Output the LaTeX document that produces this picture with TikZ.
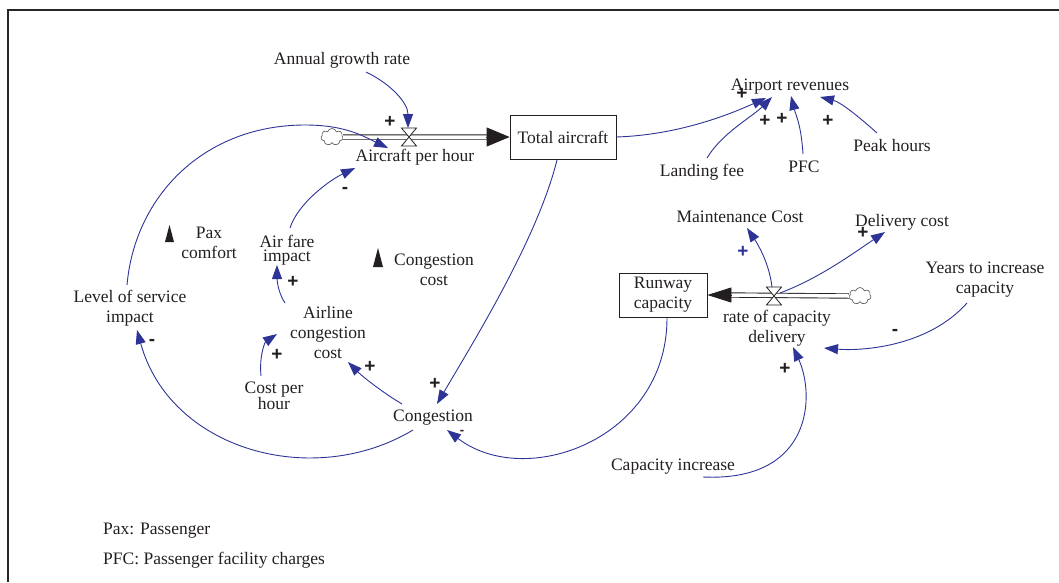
\documentclass[tikz,border=0pt]{standalone}
\usepackage{fontspec}
\setmainfont{Liberation Serif}
\newfontfamily\signfont{Liberation Sans}
\usetikzlibrary{arrows.meta,shapes.symbols}
\definecolor{linkblue}{RGB}{46,52,150}
\definecolor{ink}{RGB}{35,31,32}
\begin{document}
\begin{tikzpicture}[x=1pt,y=-1pt,
  txt/.style={font=\fontsize{17.5}{20}\selectfont, text=ink, inner sep=1pt, align=center},
  stock/.style={txt, draw=ink, line width=0.8pt, minimum height=44pt},
  link/.style={draw=linkblue, line width=0.9pt, -{Triangle[length=14pt,width=10pt]}},
  sgn/.style={font=\signfont\bfseries\fontsize{19}{19}\selectfont, text=ink, inner sep=0pt},
  pipe/.style={draw=ink, double=white, double distance=3.5pt, line width=0.9pt},
  cloudy/.style={cloud, cloud puffs=7, aspect=1.3, draw=black!60, fill=white, minimum width=22pt, minimum height=17pt, inner sep=0pt, line width=0.7pt},
  valveshape/.style={draw=ink, fill=white, line width=0.8pt},
  flowtip/.style={draw=ink, line width=0.8pt},
  marker/.style={fill=ink}
]
\useasboundingbox (0,0) rectangle (1059,582);
% frame
\draw[line width=2.6pt, black!85] (8,582) -- (8,10) -- (1059,10);

% ---- flow 1: aircraft
\node[cloudy] (c1) at (332,137) {};
\node[stock, minimum width=106pt] (ta) at (563,137) {Total aircraft};
\draw[pipe] (c1.east) -- ([xshift=-20pt]ta.west);
\draw[flowtip, -{Triangle[length=23pt,width=19pt]}] ([xshift=-24pt]ta.west) -- (ta.west);
\coordinate (v1) at (409,137);
\draw[valveshape] ([shift={(-7.5,-9)}]v1) -- ([shift={(7.5,-9)}]v1) -- ([shift={(-7.5,9)}]v1) -- ([shift={(7.5,9)}]v1) -- cycle;

% ---- flow 2: runway capacity
\node[stock, minimum width=88pt] (rc) at (663,295) {Runway\\capacity};
\node[cloudy] (c2) at (860,296) {};
\draw[pipe] (c2.west) -- ([xshift=21pt]rc.east);
\draw[flowtip, -{Triangle[length=24pt,width=15pt]}] ([xshift=24pt]rc.east) -- (rc.east);
\coordinate (v2) at (774,296);
\draw[valveshape] ([shift={(-7.5,-9)}]v2) -- ([shift={(7.5,-9)}]v2) -- ([shift={(-7.5,9)}]v2) -- ([shift={(7.5,9)}]v2) -- cycle;

% ---- text variables
\node[txt] (agr) at (342,60) {Annual growth rate};
\node[txt] (aph) at (415,157) {Aircraft per hour};
\node[txt] (ar) at (790,87) {Airport revenues};
\node[txt] (lf) at (702,172) {Landing fee};
\node[txt] (pfc) at (804,167) {PFC};
\node[txt] (ph) at (892,146) {Peak hours};
\node[txt, font=\fontsize{17.5}{14}\selectfont] (afi) at (287,250) {Air fare\\impact};
\node[txt] (pax) at (209,243) {Pax\\comfort};
\node[txt] (ccost) at (434,270) {Congestion\\cost};
\node[txt] (lsi) at (130,308) {Level of service\\impact};
\node[txt] (acc) at (328,333) {Airline\\congestion\\cost};
\node[txt, font=\fontsize{17.5}{16}\selectfont] (cph) at (274,396) {Cost per\\hour};
\node[txt] (cong) at (433,418) {Congestion};
\node[txt] (rcd) at (777,328) {rate of capacity\\delivery};
\node[txt] (mc) at (740,217) {Maintenance Cost};
\node[txt] (dc) at (902,222) {Delivery cost};
\node[txt] (yic) at (985,280) {Years to increase\\capacity};
\node[txt] (ci) at (673,467) {Capacity increase};
\node[txt, anchor=west] (leg1) at (102,531) {Pax: Passenger};
\node[txt, anchor=west] (leg2) at (102,560) {PFC: Passenger facility charges};

% loop markers
\fill[marker] (165,242) -- (174,242) -- (169.5,225) -- cycle;
\fill[marker] (373,267) -- (383,267) -- (378,248) -- cycle;

% ---- links
\draw[link] ([shift={(24,12)}]agr.center) .. controls +(25,12) and +(0,-25) .. ([shift={(-1,-9)}]v1);
\draw[link] (ta.east) .. controls +(60,-2) and +(-40,18) .. ([shift={(-24,11)}]ar.center);
\draw[link] ([shift={(5,-14)}]lf.center) .. controls +(15,-25) and +(-20,20) .. ([shift={(-18,10)}]ar.center);
\draw[link] ([shift={(-1,-13)}]pfc.center) .. controls +(-2,-30) and +(5,20) .. ([shift={(1,9)}]ar.center);
\draw[link] ([shift={(-15,-13)}]ph.center) .. controls +(-20,-18) and +(20,5) .. ([shift={(30,10)}]ar.center);
\draw[link] ([shift={(-3,-23)}]lsi.center) .. controls +(8,-90) and +(-100,0) .. (305,125) .. controls +(40,0) and +(-25,-12) .. ([shift={(-27,-9)}]aph.center);
\draw[link] ([shift={(3,-22)}]afi.center) .. controls +(8,-25) and +(-25,12) .. ([shift={(-60,11)}]aph.center);
\draw[link] ([shift={(-43,-30)}]acc.center) .. controls +(-8,-12) and +(0,12) .. ([shift={(-10,15)}]afi.center);
\draw[link] ([shift={(-13,-20)}]cph.center) .. controls +(-2,-20) and +(-12,8) .. ([shift={(-51,1)}]acc.center);
\draw[link] ([shift={(-31,-14)}]cong.center) .. controls +(-20,-12) and +(15,15) .. ([shift={(20,29)}]acc.center);
\draw[link] ([shift={(-6,23)}]ta.center) .. controls +(-20,80) and +(35,-60) .. ([shift={(4,-14)}]cong.center);
\draw[link] ([shift={(-20,12)}]cong.center) .. controls +(-100,60) and +(33,120) .. ([shift={(7,22)}]lsi.center);
\draw[link] ([shift={(4,23)}]rc.center) .. controls +(0,122) and +(78,60) .. ([shift={(14,12)}]cong.center);
\draw[link] ([shift={(-2,-9)}]v2) .. controls +(-3,-25) and +(10,15) .. ([shift={(7,11)}]mc.center);
\draw[link] ([shift={(6,-3)}]v2) .. controls +(40,-15) and +(-30,20) .. ([shift={(-17,10)}]dc.center);
\draw[link] ([shift={(-18,23)}]yic.center) .. controls +(-40,45) and +(35,3) .. ([shift={(47,20)}]rcd.center);
\draw[link] ([shift={(30,10)}]ci.center) .. controls +(110,5) and +(22,48) .. ([shift={(16,19)}]rcd.center);

% ---- polarity signs
\node[sgn] (s1) at (390,122) {+};
\node[sgn] (s2) at (742,94) {+};
\node[sgn] (s3) at (765,121) {+};
\node[sgn] (s4) at (782,119) {+};
\node[sgn] (s5) at (828,121) {+};
\node[sgn] (s6) at (345,190) {-};
\node[sgn] (s7) at (293,282) {+};
\node[sgn] (s8) at (277,355) {+};
\node[sgn] (s9) at (370,367) {+};
\node[sgn] (s10) at (435,384) {+};
\node[sgn] (s11) at (152,342) {-};
\node[sgn, font=\signfont\bfseries\fontsize{13}{13}\selectfont] (s12) at (462,432) {-};
\node[sgn, text=linkblue] (s13) at (743,252) {+};
\node[sgn] (s14) at (863,233) {+};
\node[sgn] (s15) at (895,332) {-};
\node[sgn] (s16) at (785,369) {+};
\end{tikzpicture}
\end{document}
